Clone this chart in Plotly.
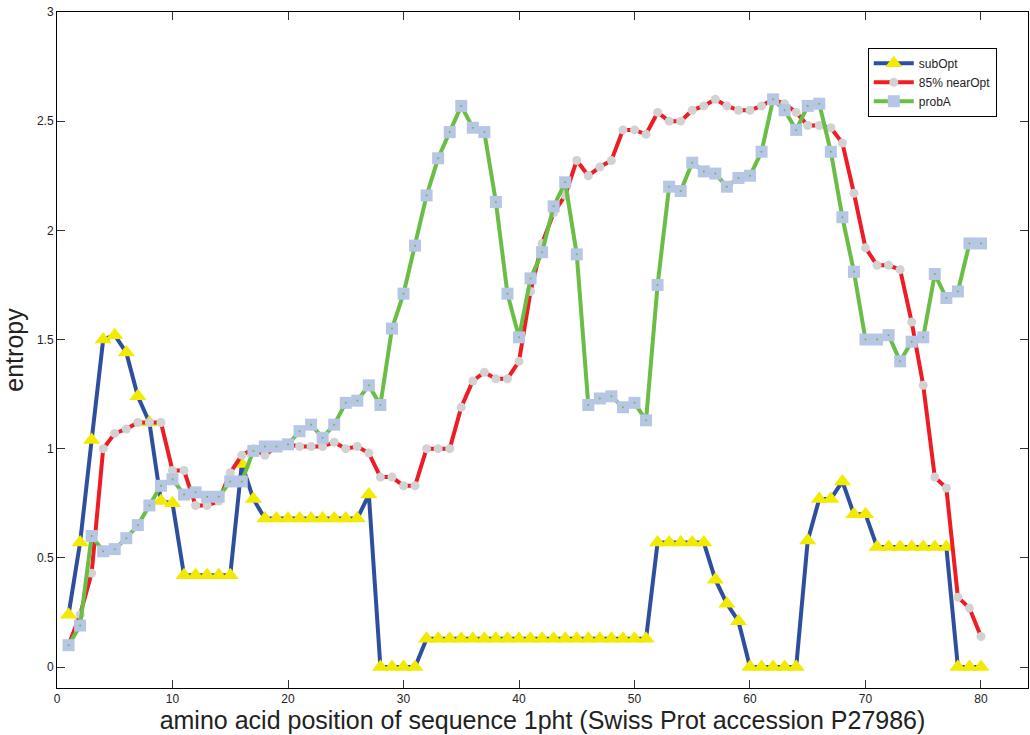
import plotly.graph_objects as go

positions = list(range(1, 81))

sub_opt = [0.24, 0.57, 1.04, 1.50, 1.52, 1.44, 1.24, 1.12, 0.76, 0.75,
           0.42, 0.42, 0.42, 0.42, 0.42, 0.93, 0.77, 0.68, 0.68, 0.68,
           0.68, 0.68, 0.68, 0.68, 0.68, 0.68, 0.79, 0.0, 0.0, 0.0,
           0.0, 0.13, 0.13, 0.13, 0.13, 0.13, 0.13, 0.13, 0.13, 0.13,
           0.13, 0.13, 0.13, 0.13, 0.13, 0.13, 0.13, 0.13, 0.13, 0.13,
           0.13, 0.57, 0.57, 0.57, 0.57, 0.57, 0.40, 0.29, 0.21, 0.0,
           0.0, 0.0, 0.0, 0.0, 0.58, 0.77, 0.77, 0.85, 0.70, 0.70,
           0.55, 0.55, 0.55, 0.55, 0.55, 0.55, 0.55, 0.0, 0.0, 0.0]

near_opt = [0.10, 0.24, 0.43, 1.00, 1.07, 1.09, 1.12, 1.12, 1.12, 0.90,
            0.90, 0.74, 0.74, 0.76, 0.89, 0.97, 1.00, 0.97, 1.01, 1.02,
            1.01, 1.01, 1.01, 1.03, 1.00, 1.01, 0.98, 0.87, 0.87, 0.83,
            0.83, 1.00, 1.00, 1.00, 1.19, 1.31, 1.35, 1.32, 1.32, 1.40,
            1.72, 1.94, 2.08, 2.16, 2.32, 2.25, 2.29, 2.32, 2.46, 2.46,
            2.44, 2.54, 2.50, 2.50, 2.55, 2.57, 2.60, 2.57, 2.55, 2.55,
            2.57, 2.60, 2.58, 2.54, 2.48, 2.48, 2.47, 2.40, 2.17, 1.92,
            1.84, 1.84, 1.82, 1.58, 1.29, 0.87, 0.82, 0.32, 0.27, 0.14]

prob_a = [0.10, 0.19, 0.60, 0.53, 0.54, 0.59, 0.65, 0.74, 0.83, 0.86,
          0.79, 0.80, 0.78, 0.78, 0.85, 0.85, 0.99, 1.01, 1.01, 1.02,
          1.08, 1.11, 1.05, 1.11, 1.21, 1.22, 1.29, 1.20, 1.55, 1.71,
          1.93, 2.16, 2.33, 2.45, 2.57, 2.47, 2.45, 2.13, 1.71, 1.51,
          1.78, 1.90, 2.11, 2.22, 1.89, 1.20, 1.23, 1.24, 1.19, 1.21,
          1.13, 1.75, 2.20, 2.18, 2.31, 2.27, 2.26, 2.20, 2.24, 2.25,
          2.36, 2.60, 2.55, 2.46, 2.57, 2.58, 2.36, 2.06, 1.81, 1.50,
          1.50, 1.52, 1.40, 1.49, 1.51, 1.80, 1.69, 1.72, 1.94, 1.94]

x_ticks = [0, 10, 20, 30, 40, 50, 60, 70, 80]
y_ticks = [0, 0.5, 1, 1.5, 2, 2.5, 3]
y_tick_text = ["0", "0.5", "1", "1.5", "2", "2.5", "3"]

FONT = "Liberation Sans, Arial, Helvetica, sans-serif"

fig = go.Figure()

fig.add_trace(go.Scatter(
    x=positions, y=sub_opt, name="subOpt", mode="lines+markers",
    line=dict(color="#2e4fa0", width=4),
    marker=dict(symbol="triangle-up", size=15, color="#f2ea00",
                line=dict(width=0)),
))
fig.add_trace(go.Scatter(
    x=positions, y=near_opt, name="85% nearOpt", mode="lines+markers",
    line=dict(color="#ee1c24", width=4),
    marker=dict(symbol="circle", size=9, color="#d2d2d2",
                line=dict(width=0)),
))
fig.add_trace(go.Scatter(
    x=positions, y=prob_a, name="probA", mode="lines+markers",
    line=dict(color="#6abd45", width=4),
    marker=dict(symbol="square", size=12, color="#b6c6e4",
                line=dict(width=0)),
))
fig.add_trace(go.Scatter(
    x=positions, y=prob_a, mode="markers", showlegend=False,
    hoverinfo="skip",
    marker=dict(symbol="circle", size=2, color="#6abd45", line=dict(width=0)),
))

axis_common = dict(
    showline=True, linecolor="black", linewidth=1, mirror="ticks",
    ticks="inside", ticklen=8, tickcolor="#333333", tickwidth=1,
    showgrid=False, zeroline=False,
    tickfont=dict(family=FONT, size=12, color="#222222"),
)

fig.update_layout(
    width=1030, height=735,
    margin=dict(l=57, r=2, t=12, b=47),
    paper_bgcolor="white", plot_bgcolor="white",
    font=dict(family=FONT, color="#222222"),
    xaxis=dict(range=[0, 84.07], tickvals=x_ticks,
               title=dict(text="amino acid position of sequence 1pht (Swiss Prot accession P27986)",
                          font=dict(family=FONT, size=25, color="#222222"),
                          standoff=0),
               **axis_common),
    yaxis=dict(range=[-0.096, 3.0], tickvals=y_ticks, ticktext=y_tick_text,
               title=dict(text="entropy",
                          font=dict(family=FONT, size=25, color="#222222"),
                          standoff=6),
               **axis_common),
    legend=dict(x=0.835, y=0.947, xanchor="left", yanchor="top",
                bgcolor="white", bordercolor="black", borderwidth=1,
                font=dict(family=FONT, size=12, color="#222222"),
                itemwidth=40, tracegroupgap=0),
    showlegend=True,
)

fig.write_html("out.html")
